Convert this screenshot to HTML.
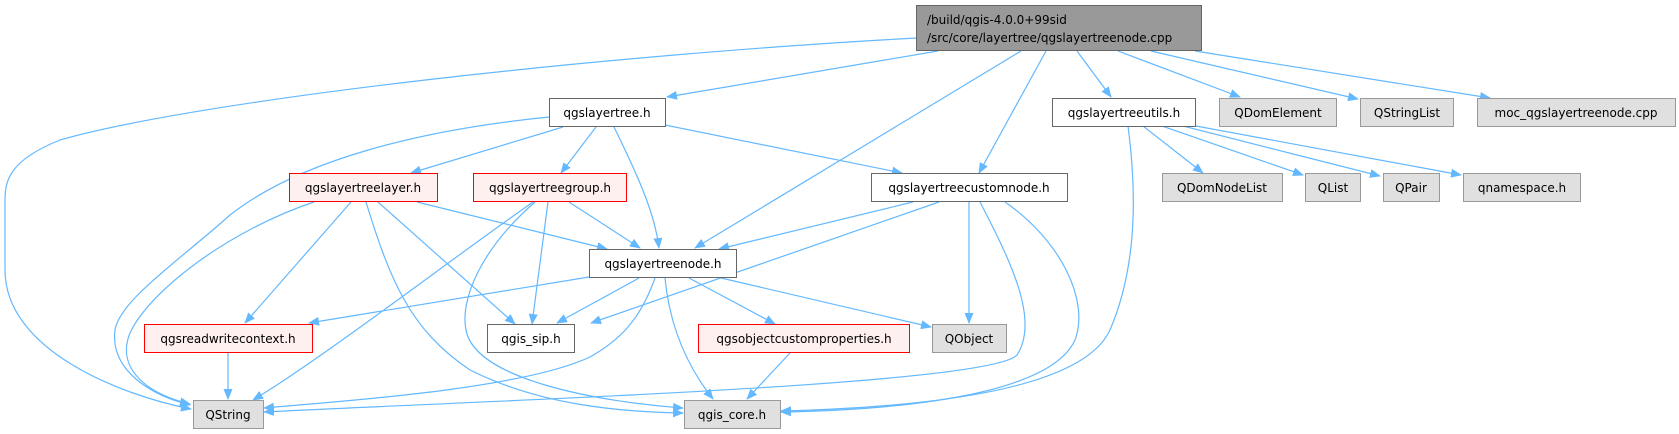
<!DOCTYPE html>
<html><head><meta charset="utf-8"><style>
html,body{margin:0;padding:0;background:#fff;width:1679px;height:434px;overflow:hidden}
svg{display:block}
text{font-family:"DejaVu Sans","Liberation Sans",sans-serif;font-size:12px;fill:#000}
.e{fill:none;stroke:#63b8ff;stroke-width:1.2}
</style></head><body>
<svg width="1679" height="434" viewBox="0 0 1679 434" xmlns="http://www.w3.org/2000/svg">
<defs><marker id="a" markerWidth="11" markerHeight="9" refX="10" refY="4.5" orient="auto" markerUnits="userSpaceOnUse"><path d="M0,0 L11,4.5 L0,9 z" fill="#63b8ff"/></marker></defs>
<g class="e" marker-end="url(#a)">
<path d="M917,38 C600,55 200,100 60,140 C10,160 5,180 5,200 L5,270 C5,350 120,395 191,409"/>
<path d="M938,51 L667,97"/>
<path d="M1021,51 L695,248"/>
<path d="M1046,51 L979,173"/>
<path d="M1077,51 L1111,97"/>
<path d="M1118,51 L1240,97"/>
<path d="M1151,51 L1358,99"/>
<path d="M1195,51 L1490,98"/>
<path d="M549,117 C420,130 300,160 230,215 C180,260 120,300 115,330 C110,370 150,395 190,405"/>
<path d="M563,127 L411,173"/>
<path d="M596,127 L561,173"/>
<path d="M614,127 C640,180 655,215 659,248"/>
<path d="M665,125 L902,173"/>
<path d="M314,202 C230,230 150,290 130,333 C115,370 150,395 190,404"/>
<path d="M351,202 L245,323"/>
<path d="M366,202 C390,280 410,330 470,370 C540,405 620,412 683,413"/>
<path d="M378,202 L515,324"/>
<path d="M417,202 L607,249"/>
<path d="M533,202 C450,260 320,360 253,400"/>
<path d="M535,202 C480,250 460,300 466,330 C475,380 600,402 683,408"/>
<path d="M548,202 L532,324"/>
<path d="M569,202 L640,248"/>
<path d="M913,202 L719,249"/>
<path d="M939,202 L591,323"/>
<path d="M969,202 L969,323"/>
<path d="M980,202 C1010,260 1040,320 1017,355 C990,385 500,400 264,412"/>
<path d="M1005,202 C1060,240 1090,300 1075,340 C1050,395 900,410 781,412"/>
<path d="M1128,126 C1135,180 1140,260 1110,330 C1080,395 900,408 781,411"/>
<path d="M1143,126 L1203,173"/>
<path d="M1162,126 L1303,175"/>
<path d="M1183,126 L1380,176"/>
<path d="M1196,126 L1461,175"/>
<path d="M589,277 L309,323"/>
<path d="M639,278 L557,323"/>
<path d="M655,278 C640,320 620,340 590,357 C520,390 330,402 264,408"/>
<path d="M665,278 C670,330 690,370 713,399"/>
<path d="M689,278 L775,324"/>
<path d="M721,278 L931,327"/>
<path d="M228,353 L228,399"/>
<path d="M790,353 L747,399"/>
</g>
<g stroke-width="1">
<rect x="916.5" y="5.5" width="285" height="45" fill="#999" stroke="#666"/>
<rect x="549.5" y="98.5" width="116" height="28" fill="#fff" stroke="#666"/>
<rect x="1052.5" y="98.5" width="143" height="28" fill="#fff" stroke="#666"/>
<rect x="1219.5" y="98.5" width="117" height="28" fill="#e0e0e0" stroke="#999"/>
<rect x="1360.5" y="98.5" width="93" height="28" fill="#e0e0e0" stroke="#999"/>
<rect x="1477.5" y="98.5" width="198" height="28" fill="#e0e0e0" stroke="#999"/>
<rect x="289.5" y="173.5" width="148" height="28" fill="#fff0f0" stroke="#f00"/>
<rect x="473.5" y="173.5" width="153" height="28" fill="#fff0f0" stroke="#f00"/>
<rect x="871.5" y="173.5" width="196" height="28" fill="#fff" stroke="#666"/>
<rect x="1162.5" y="173.5" width="120" height="28" fill="#e0e0e0" stroke="#999"/>
<rect x="1305.5" y="173.5" width="55" height="28" fill="#e0e0e0" stroke="#999"/>
<rect x="1383.5" y="173.5" width="56" height="28" fill="#e0e0e0" stroke="#999"/>
<rect x="1463.5" y="173.5" width="117" height="28" fill="#e0e0e0" stroke="#999"/>
<rect x="589.5" y="249.5" width="147" height="28" fill="#fff" stroke="#666"/>
<rect x="144.5" y="324.5" width="168" height="28" fill="#fff0f0" stroke="#f00"/>
<rect x="487.5" y="324.5" width="87" height="28" fill="#fff" stroke="#666"/>
<rect x="698.5" y="324.5" width="211" height="28" fill="#fff0f0" stroke="#f00"/>
<rect x="932.5" y="324.5" width="74" height="28" fill="#e0e0e0" stroke="#999"/>
<rect x="193.5" y="400.5" width="70" height="28" fill="#e0e0e0" stroke="#999"/>
<rect x="684.5" y="400.5" width="96" height="28" fill="#e0e0e0" stroke="#999"/>
</g>
<text x="927" y="24">/build/qgis-4.0.0+99sid</text>
<text x="927" y="42">/src/core/layertree/qgslayertreenode.cpp</text>
<g text-anchor="middle">
<text x="607" y="117">qgslayertree.h</text>
<text x="1124" y="117">qgslayertreeutils.h</text>
<text x="1278" y="117">QDomElement</text>
<text x="1407" y="117">QStringList</text>
<text x="1576" y="117">moc_qgslayertreenode.cpp</text>
<text x="363" y="192">qgslayertreelayer.h</text>
<text x="550" y="192">qgslayertreegroup.h</text>
<text x="969" y="192">qgslayertreecustomnode.h</text>
<text x="1222" y="192">QDomNodeList</text>
<text x="1333" y="192">QList</text>
<text x="1411" y="192">QPair</text>
<text x="1522" y="192">qnamespace.h</text>
<text x="663" y="268">qgslayertreenode.h</text>
<text x="228" y="343">qgsreadwritecontext.h</text>
<text x="531" y="343">qgis_sip.h</text>
<text x="804" y="343">qgsobjectcustomproperties.h</text>
<text x="969" y="343">QObject</text>
<text x="228" y="419">QString</text>
<text x="732" y="419">qgis_core.h</text>
</g>
</svg>
</body></html>
